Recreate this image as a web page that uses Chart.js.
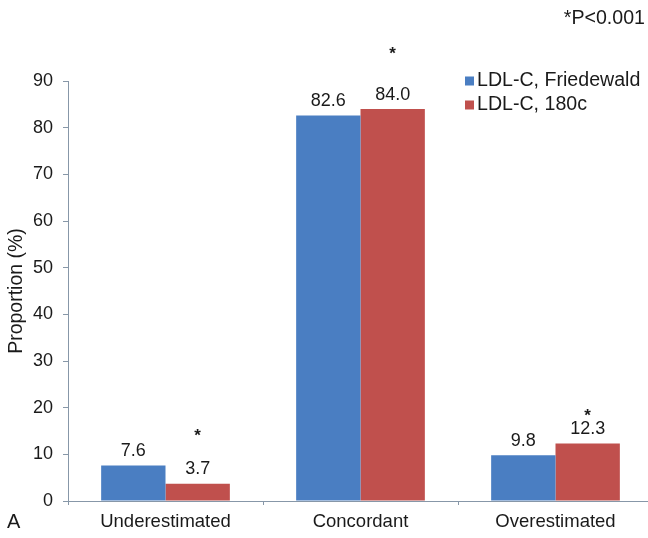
<!DOCTYPE html>
<html>
<head>
<meta charset="utf-8">
<script src="https://cdn.jsdelivr.net/npm/chart.js@4/dist/chart.umd.min.js"></script>
<style>
  html, body { margin: 0; padding: 0; background: #fff; overflow: hidden; }
  #wrap { width: 654px; height: 538px; }
</style>
</head>
<body>
<div id="wrap"><canvas id="c" width="654" height="538"></canvas></div>
<script>
const categories = ['Underestimated', 'Concordant', 'Overestimated'];
const friedewald = [7.6, 82.6, 9.8];
const ldl180c = [3.7, 84.0, 12.3];
const significant = [true, true, true];
const seriesNames = ['LDL-C, Friedewald', 'LDL-C, 180c'];
const yTicks = [0, 10, 20, 30, 40, 50, 60, 70, 80, 90];
const noteText = '*P<0.001';
const panelLabel = 'A';

const BLUE = '#4A7EC2';
const RED = '#C0504D';
const AXIS = '#8797a8';
const TEXT = '#1a1a1a';
const FONT = "'Liberation Sans', Arial, sans-serif";

const annotations = {
  id: 'annotations',
  afterDatasetsDraw(chart, args, opts) {
    const ctx = chart.ctx;
    ctx.save();
    ctx.fillStyle = TEXT;
    ctx.textAlign = 'center';
    ctx.textBaseline = 'alphabetic';
    ctx.font = '18px ' + FONT;
    chart.data.datasets.forEach((ds, di) => {
      const meta = chart.getDatasetMeta(di);
      meta.data.forEach((el, i) => {
        ctx.fillText(ds.data[i].toFixed(1), el.x, el.y - 9.5);
      });
    });
    // significance asterisks above the 180c bars
    const meta2 = chart.getDatasetMeta(1);
    ctx.font = 'bold 17px ' + FONT;
    meta2.data.forEach((el, i) => {
      if (!significant[i]) return;
      const off = opts.starOffsets[i];
      ctx.fillText('*', el.x, el.y - off + 10);
    });
    // legend
    ctx.textAlign = 'left';
    ctx.textBaseline = 'middle';
    ctx.font = '19.6px ' + FONT;
    chart.data.datasets.forEach((ds, di) => {
      const y = 81 + di * 24;
      ctx.fillStyle = ds.backgroundColor;
      ctx.fillRect(465, y - 4.5, 9, 9);
      ctx.fillStyle = TEXT;
      ctx.fillText(ds.label, 477, y);
    });
    // note & panel label
    ctx.textAlign = 'right';
    ctx.font = '19.6px ' + FONT;
    ctx.fillText(noteText, 645, 19);
    ctx.textAlign = 'left';
    ctx.font = '20px ' + FONT;
    ctx.fillText(panelLabel, 7, 522);
    ctx.restore();
  }
};

new Chart(document.getElementById('c'), {
  type: 'bar',
  data: {
    labels: categories,
    datasets: [
      { label: seriesNames[0], data: friedewald, backgroundColor: BLUE, categoryPercentage: 0.66, barPercentage: 1.0 },
      { label: seriesNames[1], data: ldl180c, backgroundColor: RED, categoryPercentage: 0.66, barPercentage: 1.0 }
    ]
  },
  options: {
    responsive: false,
    devicePixelRatio: 1,
    animation: false,
    layout: { padding: { top: 81, right: 1, left: 0, bottom: 0 } },
    plugins: {
      legend: { display: false },
      tooltip: { enabled: false },
      annotations: { starOffsets: [53, 60, 33] }
    },
    scales: {
      x: {
        afterFit(s) { s.height = 37; },
        grid: { display: true, drawOnChartArea: false, drawTicks: true, tickLength: 4, color: AXIS, offset: true },
        border: { display: true, color: AXIS, width: 1 },
        ticks: { color: TEXT, font: { size: 18.5, family: FONT }, padding: 6, maxRotation: 0 }
      },
      y: {
        min: 0, max: 90,
        afterFit(s) { s.width = 68; },
        afterBuildTicks(s) { s.ticks = yTicks.map(v => ({ value: v })); },
        grid: { display: true, drawOnChartArea: false, drawTicks: true, tickLength: 5, color: AXIS },
        border: { display: true, color: AXIS, width: 1 },
        ticks: { color: TEXT, font: { size: 18, family: FONT }, padding: 10 },
        title: { display: true, text: 'Proportion (%)', color: TEXT, font: { size: 19.5, family: FONT }, padding: { top: 5, bottom: 0 } }
      }
    }
  },
  plugins: [annotations]
});
</script>
</body>
</html>
